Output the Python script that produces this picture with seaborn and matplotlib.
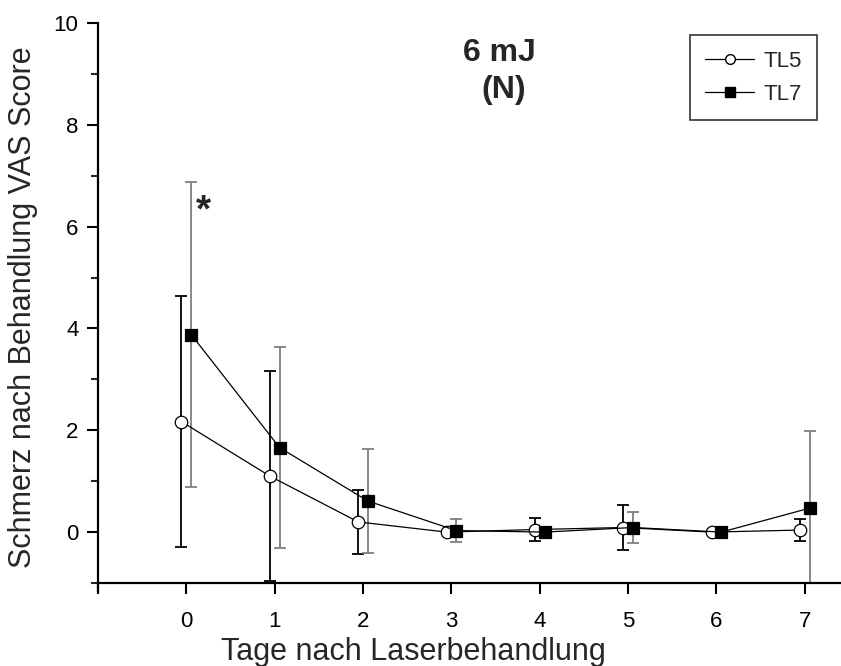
import matplotlib
matplotlib.use("Agg")
import matplotlib.pyplot as plt
import seaborn as sns
import pandas as pd
import numpy as np
from matplotlib.lines import Line2D

days = [0, 1, 2, 3, 4, 5, 6, 7]
tl5_mean = [2.17, 1.10, 0.20, 0.00, 0.05, 0.09, 0.00, 0.04]
tl5_sd = [2.47, 2.06, 0.63, 0.00, 0.22, 0.45, 0.00, 0.22]
tl7_mean = [3.88, 1.66, 0.61, 0.03, 0.00, 0.09, 0.00, 0.47]
tl7_sd = [3.00, 1.98, 1.02, 0.22, 0.00, 0.30, 0.00, 1.52]
series_names = ["TL5", "TL7"]
x_ticks = [-1, 0, 1, 2, 3, 4, 5, 6, 7]
x_ticklabels = ["", "0", "1", "2", "3", "4", "5", "6", "7"]
y_ticks = [0, 2, 4, 6, 8, 10]

sns.set_theme(style="ticks")
plt.rcParams["font.family"] = ["Liberation Sans", "DejaVu Sans"]

dodge = 0.055
df = pd.DataFrame({
    "day": days * 2,
    "x": [d - dodge for d in days] + [d + dodge for d in days],
    "mean": tl5_mean + tl7_mean,
    "sd": tl5_sd + tl7_sd,
    "series": ["TL5"] * len(days) + ["TL7"] * len(days),
})

fig = plt.figure(figsize=(8.41, 6.66), dpi=100)
ax = fig.add_axes([98 / 841, 1 - 583 / 666, 1 - 98 / 841, (583 - 23) / 666])

styles = {
    "TL5": dict(marker="o", mfc="white", mec="black", ecolor="black"),
    "TL7": dict(marker="s", mfc="black", mec="black", ecolor="#7f7f7f"),
}

for name in series_names:
    sub = df[df["series"] == name]
    st = styles[name]
    ax.errorbar(sub["x"], sub["mean"], yerr=sub["sd"], fmt="none",
                ecolor=st["ecolor"], elinewidth=1.3, capsize=4, capthick=1.3,
                zorder=2)

sns.lineplot(data=df, x="x", y="mean", hue="series", style="series",
             palette={"TL5": "black", "TL7": "black"},
             markers={"TL5": "o", "TL7": "s"}, dashes=False,
             linewidth=0.9, markersize=9, ax=ax, legend=False, zorder=3,
             estimator=None, sort=False)
for line, name in zip(ax.lines[-2:], series_names):
    line.set_markerfacecolor(styles[name]["mfc"])
    line.set_markeredgecolor("black")
    line.set_markeredgewidth(0.9)

ax.set_xlim(-1, 7.41)
ax.set_ylim(-1, 10)
ax.set_xticks(x_ticks)
ax.set_xticklabels(x_ticklabels)
ax.set_yticks(y_ticks)
ax.set_yticks([-1, 1, 3, 5, 7, 9], minor=True)
ax.tick_params(axis="both", which="major", direction="out", length=8, width=1.5,
               labelsize=16, color="black", labelcolor="black")
ax.tick_params(axis="y", which="major", pad=6)
ax.tick_params(axis="y", which="minor", direction="out", length=5, width=1.5)
ax.tick_params(axis="x", which="major", pad=12)
for s in ["top", "right"]:
    ax.spines[s].set_visible(False)
for s in ["left", "bottom"]:
    ax.spines[s].set_linewidth(1.6)
    ax.spines[s].set_color("black")
ax.spines["left"].set_bounds(-1.15, 10)
ax.set_facecolor("white")

ax.set_xlabel("Tage nach Laserbehandlung", fontsize=22)
ax.set_ylabel("Schmerz nach Behandlung VAS Score", fontsize=22)
ax.xaxis.set_label_coords(0.425, -0.096)
ax.yaxis.set_label_coords(-0.081, 0.493)

ax.text(0.19, 6.29, "*", fontsize=28, fontweight="bold", ha="center", va="center")
fig.text(499 / 841, 1 - 61 / 666, "6 mJ", fontsize=23, fontweight="bold",
         ha="center", va="baseline")
fig.text(504 / 841, 1 - 98 / 666, "(N)", fontsize=23, fontweight="bold",
         ha="center", va="baseline")

handles = [
    Line2D([], [], color="black", lw=0.9, marker="o", mfc="white", mec="black",
           markersize=7),
    Line2D([], [], color="black", lw=0.9, marker="s", mfc="black", mec="black",
           markersize=7),
]
leg = ax.legend(handles, series_names, loc="upper right",
                bbox_to_anchor=(817 / 841, 1 - 35 / 666),
                bbox_transform=fig.transFigure, borderaxespad=0,
                fontsize=16, frameon=True, fancybox=False, handlelength=2.2,
                handletextpad=0.4, borderpad=0.7, labelspacing=0.55)
leg.get_frame().set_edgecolor("black")
leg.get_frame().set_linewidth(1.2)

fig.savefig("out.png", dpi=100, facecolor="white")
